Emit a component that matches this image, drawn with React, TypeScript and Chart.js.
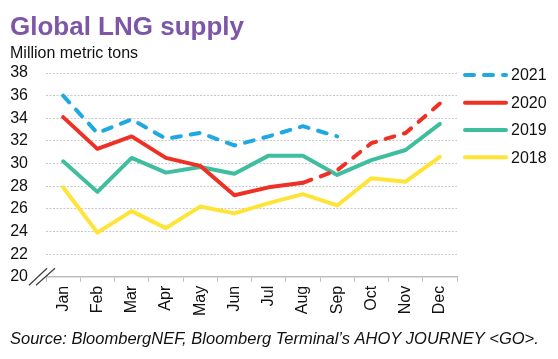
import React, { useEffect, useRef } from "react";
import { Chart, registerables } from "chart.js";

Chart.register(...registerables);

const months = ["Jan", "Feb", "Mar", "Apr", "May", "Jun", "Jul", "Aug", "Sep", "Oct", "Nov", "Dec"];
const s2021 = [36.0, 32.7, 33.9, 32.2, 32.7, 31.6, 32.4, 33.3, 32.4, null, null, null];
const s2020 = [34.1, 31.3, 32.4, 30.5, 29.8, 27.2, 27.9, 28.3, 29.4, 31.8, 32.7, 35.3];
const s2019 = [30.2, 27.5, 30.5, 29.2, 29.7, 29.1, 30.7, 30.7, 29.0, 30.3, 31.2, 33.5];
const s2018 = [27.9, 23.9, 25.8, 24.3, 26.2, 25.6, 26.5, 27.3, 26.3, 28.7, 28.4, 30.6];
const seriesNames = ["2021", "2020", "2019", "2018"];
const yMin = 20;
const yMax = 38;
const yStep = 2;

const titleText = "Global LNG supply";
const unitText = "Million metric tons";
const sourceText = "Source: BloombergNEF, Bloomberg Terminal\u2019s AHOY JOURNEY <GO>.";

const FONT = "'Liberation Sans', Arial, sans-serif";
const COLORS = ["#1EA9E1", "#EE3124", "#3FBE9F", "#FFE436"];
const DASH = [9, 10];

const decorPlugin = {
  id: "decor",
  afterDraw(chart: any) {
    const ctx = chart.ctx;
    ctx.save();
    // title
    ctx.fillStyle = "#7D56A8";
    ctx.font = `bold 26px ${FONT}`;
    ctx.textBaseline = "alphabetic";
    ctx.textAlign = "left";
    ctx.fillText(titleText, 10, 35);
    // unit
    ctx.fillStyle = "#111";
    ctx.font = `16px ${FONT}`;
    ctx.fillText(unitText, 10, 58);
    // source
    ctx.font = `italic 16.5px ${FONT}`;
    ctx.fillText(sourceText, 10, 344);
    // axis break
    ctx.strokeStyle = "#444";
    ctx.lineWidth = 1.3;
    const yb = chart.scales.y.getPixelForValue(yMin);
    ctx.beginPath();
    ctx.moveTo(29, yb + 8.5);
    ctx.lineTo(47, yb - 8.5);
    ctx.moveTo(36, yb + 8.5);
    ctx.lineTo(55, yb - 8.5);
    ctx.stroke();
    // legend
    const x0 = 465;
    const x1 = 506;
    const ys = [75, 102.7, 130, 157.3];
    chart.data.datasets.forEach((ds: any, i: number) => {
      ctx.strokeStyle = ds.borderColor;
      ctx.lineWidth = 4;
      ctx.lineCap = "round";
      ctx.setLineDash(i === 0 ? DASH : []);
      ctx.beginPath();
      ctx.moveTo(x0, ys[i]);
      ctx.lineTo(x1, ys[i]);
      ctx.stroke();
      ctx.setLineDash([]);
      ctx.fillStyle = "#111";
      ctx.font = `16px ${FONT}`;
      ctx.textBaseline = "middle";
      ctx.fillText(ds.label, 511, ys[i] + 1);
    });
    ctx.restore();
  },
};

export default function App() {
  const ref = useRef<HTMLCanvasElement | null>(null);
  useEffect(() => {
    document.body.style.margin = "0";
    const canvas = ref.current;
    if (!canvas) return;
    const mk = (label: string, data: any[], color: string, extra: any = {}) => ({
      label,
      data,
      borderColor: color,
      backgroundColor: color,
      borderWidth: 4,
      pointRadius: 0,
      pointHoverRadius: 0,
      tension: 0,
      fill: false,
      borderCapStyle: "round",
      borderJoinStyle: "round",
      spanGaps: false,
      ...extra,
    });
    const chart = new Chart(canvas, {
      type: "line",
      data: {
        labels: months,
        datasets: [
          mk(seriesNames[0], s2021, COLORS[0], { borderDash: DASH }),
          mk(seriesNames[1], s2020, COLORS[1], {
            segment: { borderDash: (c: any) => (c.p0DataIndex >= 7 ? DASH : undefined) },
          }),
          mk(seriesNames[2], s2019, COLORS[2]),
          mk(seriesNames[3], s2018, COLORS[3]),
        ],
      },
      options: {
        responsive: false,
        animation: false,
        events: [],
        layout: { padding: { left: 10, right: 101, top: 73, bottom: 39 } },
        plugins: {
          legend: { display: false },
          title: { display: false },
          tooltip: { enabled: false },
        },
        scales: {
          x: {
            offset: true,
            afterFit: (s: any) => {
              s.paddingLeft = 0;
              s.paddingRight = 0;
            },
            grid: {
              display: true,
              offset: true,
              drawOnChartArea: false,
              drawTicks: true,
              tickLength: 5,
              color: "#bdbdbd",
              lineWidth: 1,
            },
            border: { display: true, color: "#bdbdbd", width: 1.5 },
            ticks: {
              maxRotation: 90,
              minRotation: 90,
              padding: 4,
              color: "#111",
              font: { family: FONT, size: 16 },
              autoSkip: false,
            },
          },
          y: {
            min: yMin,
            max: yMax,
            afterFit: (s: any) => {
              s.width = 36;
            },
            grid: {
              color: (c: any) => (c.tick && c.tick.value === yMin ? "rgba(0,0,0,0)" : "#c8c8c8"),
              drawTicks: false,
              tickLength: 0,
              lineWidth: 1,
            },
            border: { display: false, dash: [2, 1.5] },
            ticks: {
              stepSize: yStep,
              padding: 18,
              color: "#111",
              font: { family: FONT, size: 16 },
            },
          },
        },
      },
      plugins: [decorPlugin],
    } as any);
    return () => chart.destroy();
  }, []);
  return (
    <div style={{ width: 558, height: 359 }}>
      <canvas ref={ref} width={558} height={359} style={{ display: "block", width: 558, height: 359 }} />
    </div>
  );
}
